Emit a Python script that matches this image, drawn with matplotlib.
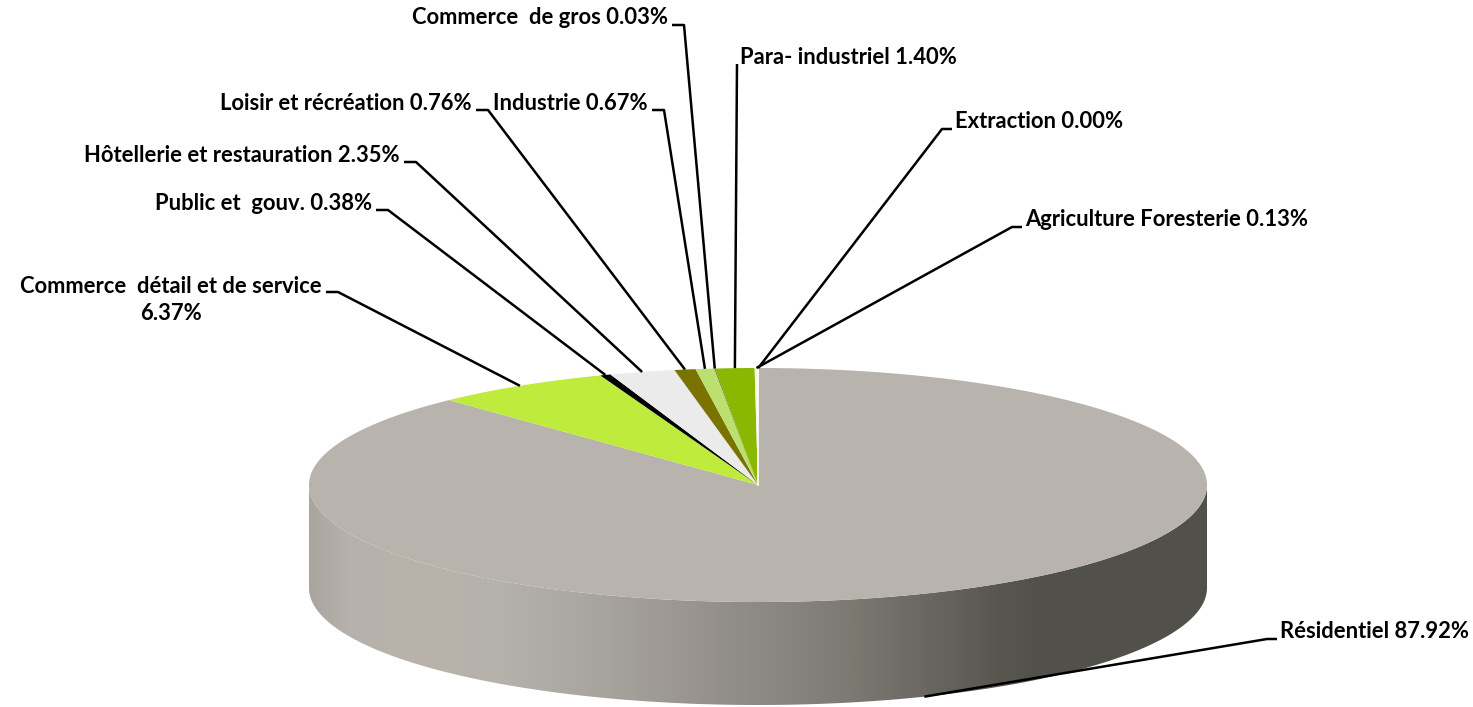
import numpy as np
import matplotlib.pyplot as plt
from matplotlib.colors import LinearSegmentedColormap
from matplotlib.patches import Polygon

# slices in clockwise order starting at 12 o'clock
categories = ['Résidentiel', 'Commerce  détail et de service', 'Public et  gouv.',
              'Hôtellerie et restauration', 'Loisir et récréation', 'Industrie',
              'Commerce  de gros', 'Para- industriel', 'Agriculture Foresterie', 'Extraction']
shares = [87.92, 6.37, 0.38, 2.35, 0.76, 0.67, 0.03, 1.40, 0.13, 0.00]
colors = ['#b8b3ac', '#bfeb3d', '#000000', '#ebebeb', '#7a7300', '#bbe070',
          '#5c5a00', '#8ab800', '#f2f7e2', '#ffffff']

# label layout (text anchor x, y, alignment)
label_pos = [(1280, 632, 'left'), (322, 300, 'right'), (372, 203, 'right'),
             (400, 155, 'right'), (472, 103, 'right'), (648, 103, 'right'),
             (668, 18, 'right'), (740, 57, 'left'), (1025, 220, 'left'),
             (955, 122, 'left')]

# pie geometry in pixels
cx, cy, a, b, depth = 758, 485, 449, 117, 103


def ell(t):
    t = np.radians(t)
    return cx + a * np.sin(t), cy - b * np.cos(t)


fig = plt.figure(figsize=(14.73, 7.07), dpi=100)
ax = fig.add_axes([0, 0, 1, 1])
ax.axis('off')

# side wall (front half) with horizontal shading
t = np.linspace(90, 270, 200)
xs, ys = ell(t)
side = np.vstack([np.column_stack([xs, ys]), np.column_stack([xs[::-1], ys[::-1] + depth])])
side_patch = Polygon(side, closed=True, facecolor='none', edgecolor='none')
ax.add_patch(side_patch)
x0, x1 = cx - a, cx + a
stops = [(0.00, '#a9a59f'), (0.04, '#b6b1ab'), (0.12, '#bab3ac'), (0.21, '#b5b1ab'),
         (0.32, '#a8a49e'), (0.41, '#9c9891'), (0.50, '#8d8983'), (0.60, '#7d7a74'),
         (0.69, '#6a6762'), (0.77, '#58564f'), (0.82, '#52504b'), (1.00, '#52504b')]
cmap = LinearSegmentedColormap.from_list('side', stops)
grad = np.linspace(0, 1, 600).reshape(1, -1)
im = ax.imshow(grad, cmap=cmap, extent=(x0, x1, cy + b + depth + 2, cy - 5),
               aspect='auto', interpolation='bilinear')
im.set_clip_path(side_patch)

# top face slices
start = 0.0
mids = []
for share, col in zip(shares, colors):
    span = share / 100 * 360
    tt = np.linspace(start, start + span, max(int(span * 2), 2))
    px, py = ell(tt)
    pts = np.vstack([[cx, cy], np.column_stack([px, py])])
    if span > 0:
        ax.add_patch(Polygon(pts, closed=True, facecolor=col, edgecolor='none'))
    mids.append(start + span / 2)
    start += span

# thin white edge at 12 o'clock
ex, ey = ell(0)
ax.plot([cx, ex], [cy, ey], color='white', lw=1.2)

# labels with leader lines
for cat, share, mid, (lx, ly, ha) in zip(categories, shares, mids, label_pos):
    txt = f'{cat} {share:.2f}%'
    if cat.startswith('Commerce  détail'):
        txt = f'{cat}\n{share:.2f}%'
    ax.text(lx, ly, txt, ha=ha, va='center', fontsize=15.8, fontweight='bold',
            family=['Lato', 'DejaVu Sans'], multialignment='center', linespacing=1.3)
    px, py = ell(mid)
    if 90 < mid % 360 < 270:
        py += depth
    ty = ly + 7 if '\n' not in txt else ly - 8
    if ha == 'right':
        e0, e1 = lx + 4, lx + 16
    else:
        e0, e1 = lx - 3, lx - 13
    if cat.startswith('Para'):
        e0 = e1 = lx - 3
    ax.plot([e0, e1, px], [ty, ty, py], color='black', lw=1.8, solid_capstyle='butt')

ax.set_xlim(0, 1473)
ax.set_ylim(707, 0)
fig.savefig('out.png', dpi=100, facecolor='white')
